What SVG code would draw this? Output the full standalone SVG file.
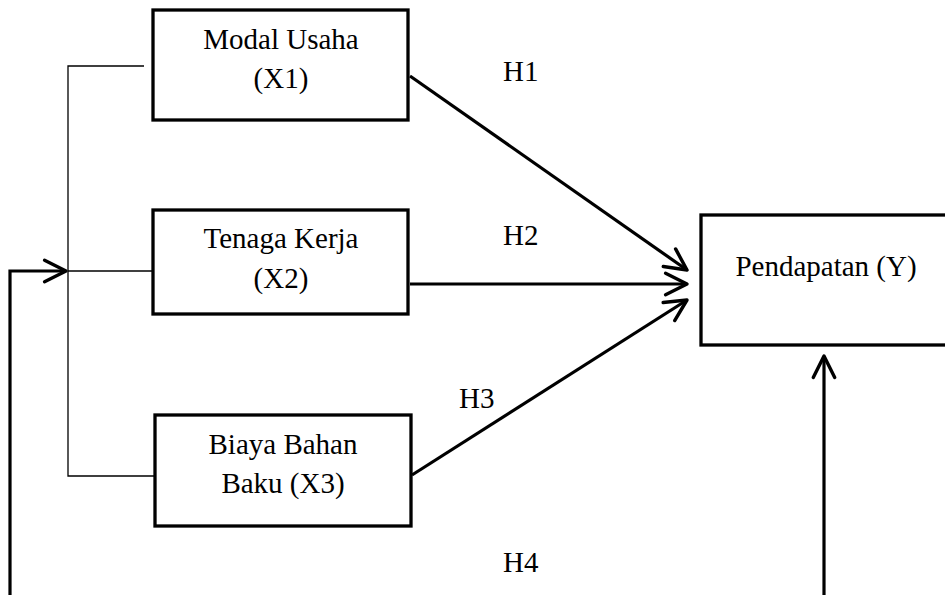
<svg xmlns="http://www.w3.org/2000/svg" width="945" height="595" viewBox="0 0 945 595">
  <style>
    .box { fill: #ffffff; stroke: #000000; stroke-width: 3.3; }
    .lbl { font-family: "Liberation Serif", "Times New Roman", serif; font-size: 29px; fill: #000000; }
    .thick { fill: none; stroke: #000000; stroke-width: 3.2; }
    .thin { fill: none; stroke: #000000; stroke-width: 1.3; }
  </style>
  <defs>
    <marker id="chev" markerUnits="userSpaceOnUse" markerWidth="30" markerHeight="30" viewBox="-24 -14 28 28" refX="0" refY="0" orient="auto">
      <path d="M-20,-10 L0,0 L-20,10" fill="none" stroke="#000000" stroke-width="3.2" stroke-linecap="round" stroke-linejoin="round"/>
    </marker>
  </defs>
  <rect width="945" height="595" fill="#ffffff"/>

  <g id="connectors">
    <path class="thin" d="M144,66 H68 V476 H155"/>
    <path class="thin" d="M68,271 H153"/>
    <path class="thick" d="M10,595 V271 H66" marker-end="url(#chev)"/>
    <path class="thick" d="M410,76 L687,270" marker-end="url(#chev)"/>
    <path class="thick" d="M410,284 L687,284" marker-end="url(#chev)"/>
    <path class="thick" d="M412,475 L687,300" marker-end="url(#chev)"/>
    <path class="thick" d="M824,595 V356" marker-end="url(#chev)"/>
  </g>

  <g id="node-x1">
    <rect class="box" x="153" y="10" width="255" height="110"/>
    <text class="lbl" x="281" y="49" text-anchor="middle">Modal Usaha</text>
    <text class="lbl" x="281" y="88" text-anchor="middle">(X1)</text>
  </g>

  <g id="node-x2">
    <rect class="box" x="153" y="210" width="255" height="104"/>
    <text class="lbl" x="281" y="248" text-anchor="middle">Tenaga Kerja</text>
    <text class="lbl" x="281" y="288" text-anchor="middle">(X2)</text>
  </g>

  <g id="node-x3">
    <rect class="box" x="155" y="415" width="256" height="111"/>
    <text class="lbl" x="283" y="454" text-anchor="middle">Biaya Bahan</text>
    <text class="lbl" x="283" y="493" text-anchor="middle">Baku (X3)</text>
  </g>

  <g id="node-y">
    <rect class="box" x="701" y="215" width="260" height="130"/>
    <text class="lbl" x="826" y="276" text-anchor="middle">Pendapatan (Y)</text>
  </g>

  <g id="labels">
    <text class="lbl" x="503" y="81">H1</text>
    <text class="lbl" x="503" y="245">H2</text>
    <text class="lbl" x="459" y="408">H3</text>
    <text class="lbl" x="503" y="572">H4</text>
  </g>
</svg>
